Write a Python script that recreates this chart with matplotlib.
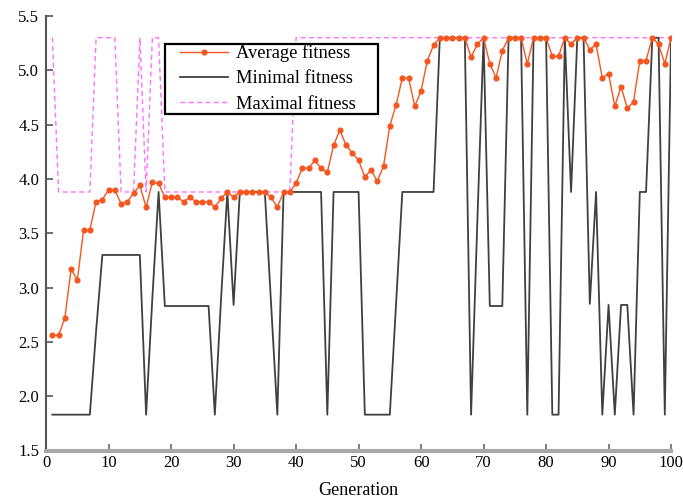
import matplotlib
matplotlib.use("Agg")
import matplotlib.pyplot as plt
from matplotlib.patches import Rectangle
from matplotlib.ticker import FormatStrFormatter

generations = list(range(1, 101))

avg_fitness = [
    2.56, 2.56, 2.72, 3.17, 3.07, 3.53, 3.53, 3.79, 3.81, 3.90,
    3.90, 3.77, 3.79, 3.87, 3.94, 3.74, 3.97, 3.96, 3.83, 3.83,
    3.83, 3.79, 3.83, 3.79, 3.79, 3.79, 3.74, 3.82, 3.88, 3.83,
    3.88, 3.88, 3.88, 3.88, 3.88, 3.83, 3.74, 3.88, 3.88, 3.96,
    4.10, 4.10, 4.17, 4.10, 4.06, 4.31, 4.45, 4.31, 4.24, 4.17,
    4.02, 4.08, 3.98, 4.12, 4.49, 4.68, 4.93, 4.93, 4.67, 4.81,
    5.09, 5.23, 5.30, 5.30, 5.30, 5.30, 5.30, 5.12, 5.24, 5.30,
    5.06, 4.93, 5.18, 5.30, 5.30, 5.30, 5.06, 5.30, 5.30, 5.30,
    5.13, 5.13, 5.30, 5.24, 5.30, 5.30, 5.19, 5.24, 4.93, 4.97,
    4.67, 4.85, 4.65, 4.71, 5.09, 5.09, 5.30, 5.24, 5.06, 5.30,
]

min_fitness = [
    1.83, 1.83, 1.83, 1.83, 1.83, 1.83, 1.83, 2.60, 3.30, 3.30,
    3.30, 3.30, 3.30, 3.30, 3.30, 1.83, 2.90, 3.88, 2.83, 2.83,
    2.83, 2.83, 2.83, 2.83, 2.83, 2.83, 1.83, 2.90, 3.88, 2.84,
    3.88, 3.88, 3.88, 3.88, 3.88, 2.85, 1.83, 3.88, 3.88, 3.88,
    3.88, 3.88, 3.88, 3.88, 1.83, 3.88, 3.88, 3.88, 3.88, 3.88,
    1.83, 1.83, 1.83, 1.83, 1.83, 2.85, 3.88, 3.88, 3.88, 3.88,
    3.88, 3.88, 5.30, 5.30, 5.30, 5.30, 5.30, 1.83, 3.60, 5.30,
    2.83, 2.83, 2.83, 5.30, 5.30, 5.30, 1.83, 5.30, 5.30, 5.30,
    1.83, 1.83, 5.30, 3.88, 5.30, 5.30, 2.85, 3.88, 1.83, 2.84,
    1.83, 2.84, 2.84, 1.83, 3.88, 3.88, 5.30, 5.30, 1.83, 5.30,
]

max_fitness = (
    [5.30] + [3.88] * 6 + [5.30] * 4 + [3.88] * 3 + [5.30] + [3.88]
    + [5.30] * 2 + [3.88] * 21 + [5.30] * 61
)

x_ticks = list(range(0, 101, 10))
y_ticks = [1.5, 2.0, 2.5, 3.0, 3.5, 4.0, 4.5, 5.0, 5.5]

plt.rcParams['font.family'] = ['Liberation Serif', 'DejaVu Serif']

fig = plt.figure(figsize=(6.83, 5.0), dpi=100)
ax = fig.add_axes([0.0675, 0.099, 0.915, 0.869])

ax.plot(generations, max_fitness, color='#ff70ff', lw=1.0, dashes=(3.5, 2.5),
        label='Maximal fitness', zorder=2)
ax.plot(generations, min_fitness, color='#404040', lw=1.3,
        label='Minimal fitness', zorder=3)
ax.plot(generations, avg_fitness, color='#f5561f', lw=1.0, marker='o',
        markersize=3.4, label='Average fitness', zorder=4)

ax.set_xlim(0, 100)
ax.set_ylim(1.5, 5.5)
ax.set_xticks(x_ticks)
ax.set_yticks(y_ticks)
ax.yaxis.set_major_formatter(FormatStrFormatter('%.1f'))

for s in ['top', 'right']:
    ax.spines[s].set_visible(False)
ax.spines['left'].set_color('#555555')
ax.spines['left'].set_linewidth(1.5)
ax.spines['bottom'].set_color('#a8a8a8')
ax.spines['bottom'].set_linewidth(3)

ax.tick_params(axis='both', direction='in', length=5, width=1.2,
               colors='#555555', labelcolor='black', labelsize=12, pad=5)
ax.tick_params(axis='x', colors='#666666', labelcolor='black', pad=3)

ax.set_xlabel('Generation', fontsize=13, labelpad=8)

# legend box frame
ax.add_patch(Rectangle((0.1903, 0.7745), 0.3408, 0.1611, transform=ax.transAxes,
                       facecolor='white', edgecolor='black', lw=1.6,
                       clip_on=False, zorder=6))

handles, labels = ax.get_legend_handles_labels()
order = [2, 1, 0]
leg = ax.legend([handles[i] for i in order], [labels[i] for i in order],
                loc='upper left', bbox_to_anchor=(0.2143, 0.935),
                borderaxespad=0, frameon=False, fontsize=13.3,
                handlelength=2.6, numpoints=1, labelspacing=0.45,
                borderpad=0, handletextpad=0.45)
leg.set_zorder(7)

fig.savefig('out.png', dpi=100)
